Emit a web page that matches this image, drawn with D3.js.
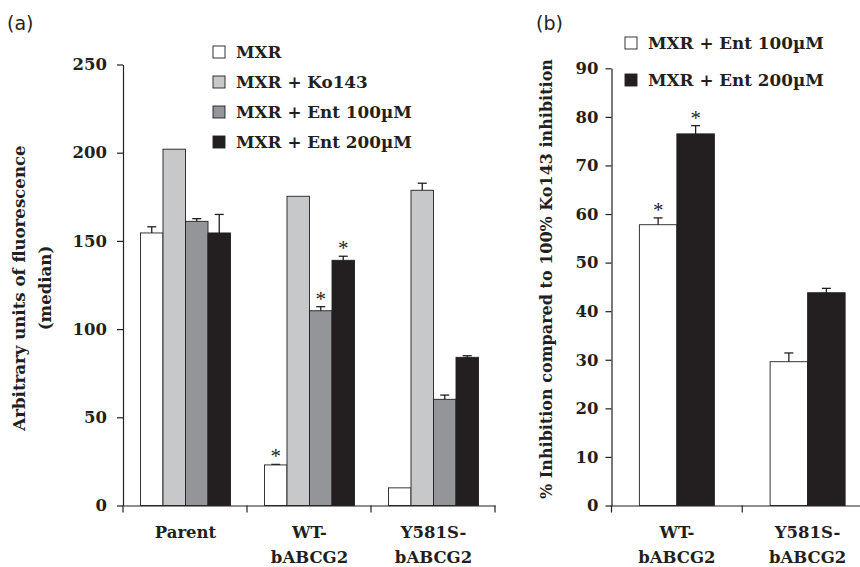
<!DOCTYPE html>
<html>
<head>
<meta charset="utf-8">
<script src="https://cdn.jsdelivr.net/npm/d3@7"></script>
<style>
body { margin: 0; background: #fff; }
text { font-family: "DejaVu Serif", serif; font-weight: bold; fill: #231f20; }
.panel-label { font-family: "DejaVu Sans", sans-serif; font-weight: normal; font-size: 19px; }
.axis path, .axis line { stroke: #231f20; stroke-width: 1.2; }
.axis text { font-size: 16.5px; font-family: "DejaVu Serif", serif; }
</style>
</head>
<body>
<div id="chart"></div>
<script>
// panel (a)
var cellsA = ["Parent", "WT-|bABCG2", "Y581S-|bABCG2"];
var seriesA = ["MXR", "MXR + Ko143", "MXR + Ent 100\u00b5M", "MXR + Ent 200\u00b5M"];
var valuesA = [
    [154.5, 202, 161.1, 154.5],
    [23, 175.3, 110.4, 139],
    [10, 178.7, 60.2, 84]
];
var errorsA = [
    [3.5, 0, 1.5, 10.5],
    [0.3, 0, 2.3, 2.3],
    [0, 4, 2.4, 0.9]
];
var starsA = [
    [false, false, false, false],
    [true, false, true, true],
    [false, false, false, false]
];
var ticksA = [0, 50, 100, 150, 200, 250];

// panel (b)
var cellsB = ["WT-|bABCG2", "Y581S-|bABCG2"];
var seriesB = ["MXR + Ent 100\u00b5M", "MXR + Ent 200\u00b5M"];
var valuesB = [
    [57.8, 76.5],
    [29.6, 43.8]
];
var errorsB = [
    [1.4, 1.7],
    [1.8, 0.9]
];
var starsB = [
    [true, true],
    [false, false]
];
var ticksB = [0, 10, 20, 30, 40, 50, 60, 70, 80, 90];

var colorA = ["#ffffff", "#c7c8ca", "#939598", "#231f20"];
var colorB = ["#ffffff", "#231f20"];

var svg = d3.select("#chart").append("svg")
    .attr("width", 860)
    .attr("height", 567);

function drawPanel(opt) {
    var g = svg.append("g");

    var y = d3.scaleLinear().domain(opt.domain).range([opt.bottom, opt.top]);
    var x0 = d3.scaleBand().domain(opt.cells).range([opt.left, opt.right]);
    var x1 = d3.scaleBand().domain(d3.range(opt.series.length))
        .range([0, opt.barW * opt.series.length]);

    var groups = g.selectAll(".grp")
        .data(opt.values)
        .enter().append("g")
        .attr("class", "grp")
        .attr("transform", function(d, i) {
            var c = x0(opt.cells[i]) + x0.bandwidth() / 2 - x1.range()[1] / 2 + opt.shift;
            return "translate(" + c + ",0)";
        });

    var bars = groups.selectAll(".bar")
        .data(function(d, i) {
            return d.map(function(v, j) {
                return {v: v, e: opt.errors[i][j], s: opt.stars[i][j], j: j};
            });
        })
        .enter().append("g")
        .attr("class", "bar");

    // error bars (only upper half visible above the bar)
    bars.filter(function(d) { return d.e > 0; })
        .append("line")
        .attr("x1", function(d) { return x1(d.j) + x1.bandwidth() / 2; })
        .attr("x2", function(d) { return x1(d.j) + x1.bandwidth() / 2; })
        .attr("y1", function(d) { return y(d.v) + 4; })
        .attr("y2", function(d) { return y(d.v + d.e); })
        .attr("stroke", "#231f20")
        .attr("stroke-width", 1.3);
    bars.filter(function(d) { return d.e > 0; })
        .append("line")
        .attr("x1", function(d) { return x1(d.j) + x1.bandwidth() / 2 - 4.5; })
        .attr("x2", function(d) { return x1(d.j) + x1.bandwidth() / 2 + 4.5; })
        .attr("y1", function(d) { return y(d.v + d.e); })
        .attr("y2", function(d) { return y(d.v + d.e); })
        .attr("stroke", "#231f20")
        .attr("stroke-width", 1.3);

    bars.append("rect")
        .attr("x", function(d) { return x1(d.j); })
        .attr("width", x1.bandwidth())
        .attr("y", function(d) { return y(d.v); })
        .attr("height", function(d) { return y(0) - y(d.v); })
        .attr("fill", function(d) { return opt.colors[d.j]; })
        .attr("stroke", "#231f20")
        .attr("stroke-width", 0.9);

    bars.filter(function(d) { return d.s; })
        .append("text")
        .attr("x", function(d) { return x1(d.j) + x1.bandwidth() / 2; })
        .attr("y", function(d) { return y(d.v + d.e) - 1; })
        .attr("text-anchor", "middle")
        .style("font-family", "Liberation Serif, serif")
        .style("font-size", "21px")
        .style("font-weight", "normal")
        .text("*");

    // axes
    g.append("g")
        .attr("class", "axis")
        .attr("transform", "translate(" + opt.left + ",0)")
        .call(d3.axisLeft(y).tickValues(opt.ticks).tickSize(6).tickSizeOuter(0).tickPadding(opt.pad));

    var xa = g.append("g")
        .attr("class", "axis")
        .attr("transform", "translate(0," + opt.bottom + ")")
        .call(d3.axisBottom(x0).tickSize(0).tickSizeOuter(0).tickFormat(""));
    xa.selectAll(".tick").remove();

    // category separators below axis
    var edges = opt.cells.map(function(c) { return x0(c); }).concat([opt.right]);
    g.selectAll(".sep")
        .data(edges)
        .enter().append("line")
        .attr("x1", function(d) { return d; })
        .attr("x2", function(d) { return d; })
        .attr("y1", opt.bottom)
        .attr("y2", opt.bottom + 7)
        .attr("stroke", "#231f20")
        .attr("stroke-width", 1.2);

    var lab = g.selectAll(".xlab")
        .data(opt.cells)
        .enter().append("text")
        .attr("class", "xlab")
        .attr("text-anchor", "middle")
        .attr("x", function(d) { return x0(d) + x0.bandwidth() / 2 + opt.shift; })
        .attr("y", opt.bottom + 32)
        .style("font-size", "16.5px");
    lab.each(function(d) {
        var parts = d.split("|");
        var t = d3.select(this);
        parts.forEach(function(p, k) {
            t.append("tspan")
                .attr("x", t.attr("x"))
                .attr("dy", k === 0 ? 0 : 25)
                .text(p);
        });
    });

    // legend
    var leg = g.selectAll(".leg")
        .data(opt.series)
        .enter().append("g")
        .attr("class", "leg")
        .attr("transform", function(d, i) {
            return "translate(" + opt.legX + "," + (opt.legY + i * opt.legStep) + ")";
        });
    leg.append("rect")
        .attr("x", 0)
        .attr("y", -6)
        .attr("width", 12)
        .attr("height", 12)
        .attr("fill", function(d, i) { return opt.colors[i]; })
        .attr("stroke", "#231f20")
        .attr("stroke-width", 0.9);
    leg.append("text")
        .attr("x", 23)
        .attr("y", 0)
        .attr("dy", "0.35em")
        .style("font-size", "16.8px")
        .text(function(d) { return d; });

    // y title
    var yt = g.append("text")
        .attr("transform", "translate(" + opt.titleX + "," + opt.titleY + ") rotate(-90)")
        .attr("text-anchor", "middle")
        .style("font-size", opt.titleSize);
    opt.title.forEach(function(p, k) {
        yt.append("tspan")
            .attr("x", 0)
            .attr("dy", k === 0 ? 0 : 26)
            .text(p);
    });

    g.append("text")
        .attr("class", "panel-label")
        .attr("x", opt.labX)
        .attr("y", 30)
        .text(opt.label);
}

drawPanel({
    cells: cellsA, series: seriesA, values: valuesA, errors: errorsA, stars: starsA,
    ticks: ticksA, domain: [0, 250], colors: colorA, pad: 10,
    left: 123, right: 495, top: 64.5, bottom: 505.5, barW: 22.5, shift: 0.5,
    legX: 213, legY: 52, legStep: 30,
    title: ["Arbitrary units of fluorescence", "(median)"], titleX: 25, titleY: 288, titleSize: "16.6px",
    label: "(a)", labX: 7
});

drawPanel({
    cells: cellsB, series: seriesB, values: valuesB, errors: errorsB, stars: starsB,
    ticks: ticksB, domain: [0, 90], colors: colorB, pad: 7,
    left: 611.5, right: 873, top: 68.3, bottom: 505.5, barW: 37.5, shift: 0,
    legX: 625, legY: 43, legStep: 37,
    title: ["% Inhibition compared to 100% Ko143 inhibition"], titleX: 552, titleY: 279, titleSize: "16px",
    label: "(b)", labX: 536
});
</script>
</body>
</html>
